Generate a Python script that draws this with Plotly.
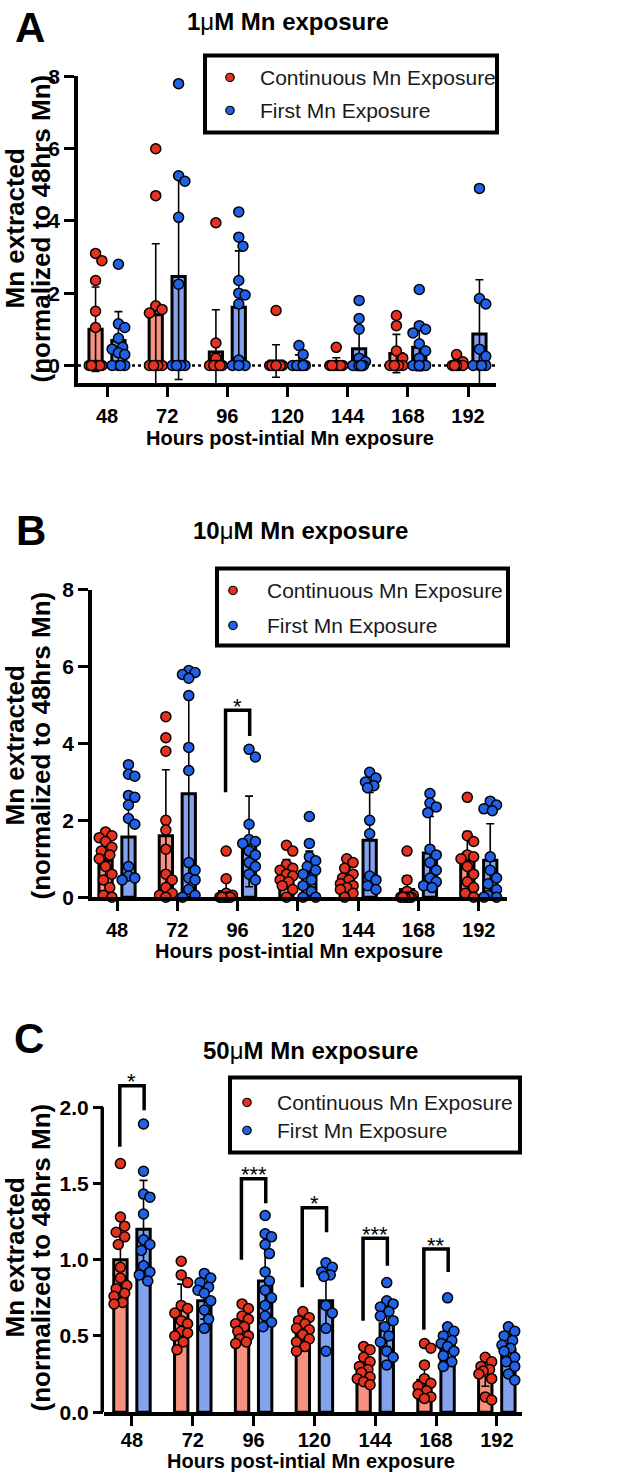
import math
import numpy as np
import plotly.graph_objects as go

PAGE_W, PAGE_H = 633, 1481
W, H = PAGE_W, PAGE_H
# the photographed picture maps page y to picture y as  y_pic = Y0 + YS * y_page
Y0, YS = 11.55, 0.98445

hours = ["48", "72", "96", "120", "144", "168", "192"]
series_names = ["Continuous Mn Exposure", "First Mn Exposure"]
concentrations = ["1", "10", "50"]

# ---------------- Panel A : 1 uM ----------------
a_cont_mean = [1.0, 1.4, 0.37, 0.12, 0.06, 0.33, 0.05]
a_cont_sd = [1.17, 1.97, 1.17, 0.45, 0.15, 0.53, 0.12]
a_first_mean = [0.69, 2.46, 1.61, 0.09, 0.46, 0.5, 0.87]
a_first_sd = [0.8, 2.85, 1.56, 0.2, 0.6, 0.65, 1.5]
a_cont_pts = [
    [3.1, 2.9, 2.35, 1.5, 1.05, 0, 0, 0, 0, 0, 0, 0],
    [6.0, 4.7, 1.65, 1.55, 1.45, 0, 0, 0, 0, 0],
    [3.95, 0.62, 0.2, 0, 0, 0, 0, 0, 0],
    [1.52, 0, 0, 0, 0, 0, 0, 0, 0],
    [0.5, 0, 0, 0, 0, 0, 0, 0],
    [1.38, 1.1, 0.4, 0.2, 0, 0, 0, 0, 0],
    [0.3, 0.1, 0, 0, 0, 0, 0],
]
a_first_pts = [
    [2.8, 1.15, 1.05, 0.75, 0.5, 0.45, 0.35, 0.3, 0, 0, 0, 0],
    [7.8, 5.25, 5.1, 4.1, 2.25, 0, 0, 0, 0, 0],
    [4.25, 3.55, 3.3, 2.35, 2.0, 1.95, 1.7, 0.15, 0, 0, 0],
    [0.55, 0.3, 0, 0, 0, 0, 0, 0],
    [1.8, 1.3, 1.0, 0.2, 0.1, 0, 0, 0, 0],
    [2.1, 1.1, 1.0, 0.9, 0.6, 0.4, 0.2, 0, 0, 0],
    [4.9, 1.85, 1.7, 0.45, 0.25, 0, 0, 0, 0],
]

# ---------------- Panel B : 10 uM ----------------
b_cont_mean = [0.95, 1.6, 0.15, 0.6, 0.45, 0.2, 0.96]
b_cont_sd = [0.6, 1.72, 0.35, 0.38, 0.3, 0.35, 0.75]
b_first_mean = [1.57, 2.69, 1.45, 0.65, 1.48, 1.15, 0.96]
b_first_sd = [1.1, 2.5, 1.18, 0.55, 1.25, 0.95, 0.95]
b_cont_pts = [
    [1.7, 1.6, 1.55, 1.45, 1.3, 1.2, 1.1, 1.0, 0.8, 0.6, 0.45, 0.25, 0.05, 0.0],
    [4.7, 4.15, 3.8, 2.0, 1.75, 1.25, 0.6, 0.45, 0.25, 0.1, 0.05, 0.0],
    [1.2, 0.48, 0.1, 0.05, 0, 0, 0, 0, 0, 0],
    [1.35, 1.2, 0.85, 0.75, 0.7, 0.6, 0.55, 0.45, 0.4, 0.3, 0.2, 0.0],
    [1.0, 0.9, 0.75, 0.6, 0.5, 0.45, 0.35, 0.3, 0.25, 0.2, 0.1, 0.0],
    [1.2, 0.45, 0.15, 0.05, 0, 0, 0, 0, 0, 0],
    [2.6, 1.6, 1.45, 1.1, 1.05, 1.0, 0.8, 0.6, 0.4, 0.25, 0.1, 0.0],
]
b_first_pts = [
    [3.45, 3.2, 3.15, 2.65, 2.6, 2.4, 2.05, 1.9, 0.8, 0.55, 0.5, 0.45],
    [5.9, 5.85, 5.8, 5.7, 5.25, 3.9, 3.3, 0.9, 0.7, 0.5, 0.45, 0.2, 0.05, 0.0],
    [3.85, 3.65, 1.9, 1.5, 1.45, 1.4, 1.2, 1.1, 0.9, 0.8, 0.6, 0.45],
    [2.1, 1.4, 1.05, 0.95, 0.8, 0.7, 0.6, 0.45, 0.3, 0.15, 0.0, 0.0],
    [3.25, 3.1, 3.0, 2.9, 2.85, 2.0, 1.65, 0.55, 0.45, 0.3, 0.2],
    [2.7, 2.45, 2.35, 2.2, 1.25, 1.1, 0.9, 0.7, 0.5, 0.4, 0.3, 0.25],
    [2.5, 2.4, 2.3, 2.25, 1.05, 0.7, 0.5, 0.35, 0.2, 0.05, 0.0, 0.0],
]

# ---------------- Panel C : 50 uM ----------------
c_cont_mean = [1.0, 0.67, 0.56, 0.55, 0.28, 0.21, 0.26]
c_cont_sd = [0.26, 0.17, 0.09, 0.08, 0.08, 0.12, 0.09]
c_first_mean = [1.2, 0.73, 0.86, 0.73, 0.58, 0.46, 0.41]
c_first_sd = [0.32, 0.12, 0.22, 0.2, 0.15, 0.12, 0.1]
c_cont_pts = [
    [1.63, 1.28, 1.22, 1.18, 1.15, 1.1, 0.95, 0.88, 0.83, 0.81, 0.78, 0.76, 0.72, 0.71],
    [0.99, 0.9, 0.85, 0.7, 0.68, 0.65, 0.6, 0.58, 0.53, 0.52, 0.5, 0.46, 0.41],
    [0.71, 0.68, 0.63, 0.61, 0.58, 0.56, 0.53, 0.5, 0.48, 0.46, 0.45],
    [0.66, 0.62, 0.6, 0.58, 0.55, 0.54, 0.51, 0.48, 0.46, 0.43, 0.4],
    [0.43, 0.41, 0.36, 0.33, 0.3, 0.28, 0.26, 0.23, 0.22, 0.2, 0.18],
    [0.45, 0.42, 0.31, 0.22, 0.19, 0.17, 0.14, 0.12, 0.1, 0.09],
    [0.36, 0.33, 0.3, 0.28, 0.27, 0.25, 0.22, 0.1, 0.08],
]
c_first_pts = [
    [1.89, 1.58, 1.43, 1.41, 1.3, 1.13, 1.1, 1.06, 0.96, 0.92, 0.9, 0.86],
    [0.91, 0.88, 0.85, 0.82, 0.8, 0.78, 0.73, 0.67, 0.61, 0.55],
    [1.29, 1.17, 1.15, 1.1, 1.04, 0.92, 0.86, 0.8, 0.75, 0.7, 0.63, 0.59, 0.56],
    [0.98, 0.95, 0.92, 0.9, 0.89, 0.7, 0.65, 0.55, 0.4],
    [0.85, 0.73, 0.71, 0.69, 0.66, 0.63, 0.6, 0.56, 0.5, 0.46, 0.4, 0.36, 0.31],
    [0.75, 0.56, 0.53, 0.5, 0.47, 0.45, 0.43, 0.4, 0.37, 0.33, 0.3],
    [0.56, 0.53, 0.5, 0.47, 0.44, 0.42, 0.4, 0.36, 0.33, 0.3, 0.25, 0.21],
]

# significance brackets: (group index, top, left-leg bottom, right-leg bottom, label)
b_brackets = [(2, 4.87, 2.73, 4.2, "*")]
c_brackets = [
    (0, 2.14, 1.74, 1.98, "*"),
    (2, 1.53, 1.0, 1.37, "***"),
    (3, 1.34, 0.82, 1.18, "*"),
    (4, 1.14, 0.6, 0.96, "***"),
    (5, 1.07, 0.54, 0.92, "**"),
]

# ---------------- styling ----------------
RED_DOT, BLUE_DOT = "#e5321f", "#2061e6"
RED_BAR, BLUE_BAR = "#f6927f", "#84a3ef"
FONT = "Arial, Liberation Sans, sans-serif"
TICKFONT = "Liberation Sans Narrow, Arial Narrow, Arial, sans-serif"
OFF = 0.19
BAR_W = 0.22


def px(x):
    return x / W


def py(y):
    # y given in picture pixels
    return 1 - ((y - Y0) / YS) / H


# all positions below are picture pixel positions
panels = [
    dict(ax="", cm=a_cont_mean, cs=a_cont_sd, fm=a_first_mean, fs=a_first_sd,
         cp=a_cont_pts, fp=a_first_pts, xdom=(78, 496), ydom=(383, 76),
         xr=(-0.482, 6.465), yr=(-0.5, 8), tv=[0, 2, 4, 6, 8], tt=["0", "2", "4", "6", "8"],
         letter=(13, 27), title=(288, 21), xt=(290, 438), yt=228, standoff=2,
         leg=(205, 497, 55, 132, 230, 77, 110, 258), brackets=[], ytop=8),
    dict(ax="2", cm=b_cont_mean, cs=b_cont_sd, fm=b_first_mean, fs=b_first_sd,
         cp=b_cont_pts, fp=b_first_pts, xdom=(92, 507), ydom=(896.7, 589.5),
         xr=(-0.415, 6.468), yr=(0, 8), tv=[0, 2, 4, 6, 8], tt=["0", "2", "4", "6", "8"],
         letter=(14, 530), title=(300, 530), xt=(299, 951), yt=745, standoff=2,
         leg=(217, 508, 568, 645, 233, 590, 625, 265), brackets=b_brackets, ytop=8),
    dict(ax="3", cm=c_cont_mean, cs=c_cont_sd, fm=c_first_mean, fs=c_first_sd,
         cp=c_cont_pts, fp=c_first_pts, xdom=(104, 522), ydom=(1411.7, 1068.6),
         xr=(-0.46, 6.414), yr=(0, 2.25), tv=[0, 0.5, 1, 1.5, 2],
         tt=["0.0", "0.5", "1.0", "1.5", "2.0"],
         letter=(12, 1038), title=(310, 1050), xt=(311, 1461), yt=1257, standoff=-3,
         leg=(230, 520, 1077, 1152, 247, 1102, 1130, 275), brackets=c_brackets, ytop=2.0),
]


def swarm(vals, center, ppx, ppy, diam=9.5, step=0.035, maxoff=0.12):
    placed = []
    xs = []
    cands = [0.0]
    k = 1
    while k * step <= maxoff + 1e-9:
        cands += [k * step, -k * step]
        k += 1
    for v in vals:
        best, bestd = None, -1
        for c in cands:
            if placed:
                d = min(math.hypot((c - a) * ppx, (v - b) * ppy) for a, b in placed)
            else:
                d = 1e9
            if d >= diam:
                best = c
                break
            if d > bestd:
                bestd, best = d, c
        placed.append((best, v))
        xs.append(center + best)
    return xs


fig = go.Figure()
shapes = []
annotations = []
idx = np.arange(len(hours))

for pi, p in enumerate(panels):
    xa, ya = "x" + p["ax"], "y" + p["ax"]
    x0p, x1p = p["xdom"]
    ybot, ytopp = p["ydom"]
    ppx = (x1p - x0p) / (p["xr"][1] - p["xr"][0])
    ppy = (ybot - ytopp) / (p["yr"][1] - p["yr"][0])
    for means, sds, fill, off in [(p["cm"], p["cs"], RED_BAR, -OFF), (p["fm"], p["fs"], BLUE_BAR, OFF)]:
        fig.add_trace(go.Bar(
            x=idx + off, y=means, width=BAR_W, xaxis=xa, yaxis=ya, showlegend=False,
            marker=dict(color=fill, line=dict(color="black", width=3)),
            error_y=dict(type="data", array=sds, visible=True, color="black", thickness=1.6, width=4),
        ))
    for pts, col, off in [(p["cp"], RED_DOT, -OFF), (p["fp"], BLUE_DOT, OFF)]:
        xs, ys = [], []
        for i, vals in enumerate(pts):
            xs += swarm(vals, i + off, ppx, ppy)
            ys += vals
        fig.add_trace(go.Scatter(
            x=xs, y=ys, mode="markers", xaxis=xa, yaxis=ya, showlegend=False, cliponaxis=False,
            marker=dict(size=10, color=col, line=dict(color="black", width=1.5)),
        ))

    common_x = dict(domain=[px(x0p), px(x1p)], range=list(p["xr"]), anchor=ya,
                    tickvals=list(idx), ticktext=hours, showline=True, linewidth=3.5,
                    linecolor="black", ticks="outside", ticklen=10, tickwidth=3,
                    tickcolor="black", showgrid=False, zeroline=False,
                    ticklabelstandoff=p["standoff"],
                    tickfont=dict(family=TICKFONT, size=20, color="black", weight="bold"))
    common_y = dict(domain=[py(ybot), py(ytopp)], range=list(p["yr"]), anchor=xa,
                    tickvals=p["tv"], ticktext=p["tt"], showline=(p["ax"] != "3"), linewidth=3.5,
                    linecolor="black", ticks="outside", ticklen=10, tickwidth=3,
                    tickcolor="black", showgrid=False, zeroline=False,
                    tickfont=dict(family=TICKFONT, size=21, color="black", weight="bold"))
    fig.update_layout(**{"xaxis" + p["ax"]: common_x, "yaxis" + p["ax"]: common_y})

    if p["ax"] == "3":
        xoff = -1.75 / (x1p - x0p)
        shapes.append(dict(type="line", xref="x3 domain", yref="y3", x0=xoff, x1=xoff, y0=0,
                           y1=p["ytop"], line=dict(color="black", width=3.5)))
    if p["ax"] == "":
        shapes.append(dict(type="line", xref="x domain", yref="y", x0=0, x1=1, y0=0, y1=0,
                           layer="below", line=dict(color="black", width=2.5, dash="dot")))

    # brackets
    for (g, top, lb, rb, lab) in p["brackets"]:
        shapes.append(dict(type="path", xref=xa, yref=ya,
                           path=f"M {g - 0.2},{lb} L {g - 0.2},{top} L {g + 0.2},{top} L {g + 0.2},{rb}",
                           line=dict(color="black", width=3.5)))
        annotations.append(dict(x=g, y=top, xref=xa, yref=ya, text=lab, showarrow=False,
                                yanchor="middle", yshift=4,
                                font=dict(family=FONT, size=22, color="black")))

    # panel letter
    annotations.append(dict(x=px(p["letter"][0]), y=py(p["letter"][1]), xref="paper", yref="paper",
                            text="<b>" + "ABC"[pi] + "</b>", showarrow=False, xanchor="left",
                            yanchor="middle", font=dict(family=FONT, size=42, color="black")))
    # title
    annotations.append(dict(x=px(p["title"][0]), y=py(p["title"][1]), xref="paper", yref="paper",
                            text="<b>" + concentrations[pi] + "</b>μ<b>M Mn exposure</b>",
                            showarrow=False, xanchor="center", yanchor="middle",
                            font=dict(family=FONT, size=24, color="black")))
    # x title
    annotations.append(dict(x=px(p["xt"][0]), y=py(p["xt"][1]), xref="paper", yref="paper",
                            text="<b>Hours post-intial Mn exposure</b>", showarrow=False,
                            xanchor="center", yanchor="middle",
                            font=dict(family=FONT, size=20, color="black")))
    # y title (two rotated lines)
    for lx, line in [(15, "Mn extracted"), (41, "(normalized to 48hrs Mn)")]:
        annotations.append(dict(x=px(lx), y=py(p["yt"]), xref="paper", yref="paper",
                                text="<b>" + line + "</b>", showarrow=False,
                                xanchor="center", yanchor="middle", textangle=-90,
                                font=dict(family=FONT, size=26, color="black")))
    # legend (manual box)
    lx0, lx1, ly0, ly1, dx, dy1, dy2, tx = p["leg"]
    shapes.append(dict(type="rect", xref="paper", yref="paper", x0=px(lx0), x1=px(lx1),
                       y0=py(ly1), y1=py(ly0), line=dict(color="black", width=4),
                       fillcolor="white", layer="above"))
    for dyy, col, name in [(dy1, RED_DOT, series_names[0]), (dy2, BLUE_DOT, series_names[1])]:
        r = 4.2
        shapes.append(dict(type="circle", xref="paper", yref="paper",
                           x0=px(dx - r), x1=px(dx + r), y0=py(dyy + r), y1=py(dyy - r),
                           fillcolor=col, line=dict(color="black", width=1.2), layer="above"))
        annotations.append(dict(x=px(tx), y=py(dyy), xref="paper", yref="paper", text=name,
                                showarrow=False, xanchor="left", yanchor="middle",
                                font=dict(family=FONT, size=21, color="#1a1a1a")))

fig.update_layout(
    width=W, height=H, margin=dict(l=0, r=0, t=0, b=0),
    paper_bgcolor="white", plot_bgcolor="white", barmode="overlay",
    showlegend=False, shapes=shapes, annotations=annotations,
    font=dict(family=FONT, color="black"),
)

fig.write_html(
    "out.html",
    config={"displayModeBar": False},
    post_script="document.documentElement.style.margin='0';document.body.style.margin='0';",
)
